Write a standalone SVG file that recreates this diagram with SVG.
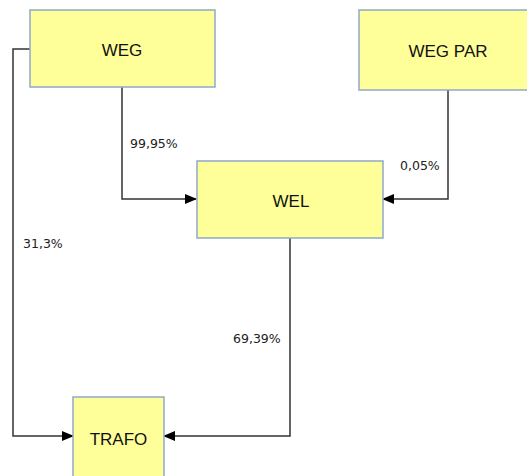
<svg xmlns="http://www.w3.org/2000/svg" width="527" height="476" viewBox="0 0 527 476">
<style>
.box{fill:#ffff99;stroke:#8ea9cc;stroke-width:1.5}
.lbl{font-family:"Liberation Sans",Arial,sans-serif;font-size:17px;fill:#111;text-anchor:middle}
.pct{font-family:"DejaVu Sans",Verdana,sans-serif;font-size:12.5px;fill:#222}
.con{fill:none;stroke:#333;stroke-width:1.5}
</style>
<defs>
<marker id="arr" markerWidth="12" markerHeight="10" refX="11" refY="5" orient="auto" markerUnits="userSpaceOnUse">
<path d="M0,0 L12,5 L0,10 Z" fill="#000"/>
</marker>
</defs>
<rect width="527" height="476" fill="#fff"/>
<g id="connectors">
<path class="con" d="M30,49 H13 V436 H73" marker-end="url(#arr)"/>
<path class="con" d="M122,87 V199 H196" marker-end="url(#arr)"/>
<path class="con" d="M448,90 V199 H383" marker-end="url(#arr)"/>
<path class="con" d="M290,238 V436 H164" marker-end="url(#arr)"/>
<text class="pct" x="130" y="148">99,95%</text>
<text class="pct" x="400" y="170">0,05%</text>
<text class="pct" x="23" y="248">31,3%</text>
<text class="pct" x="233" y="343">69,39%</text>
</g>
<g id="WEG">
<rect class="box" x="30" y="10" width="185" height="77"/>
<text class="lbl" x="122" y="56">WEG</text>
</g>
<g id="WEG_PAR">
<rect class="box" x="359" y="10" width="175" height="80"/>
<text class="lbl" x="448" y="57">WEG PAR</text>
</g>
<g id="WEL">
<rect class="box" x="197" y="161" width="186" height="77"/>
<text class="lbl" x="291" y="207">WEL</text>
</g>
<g id="TRAFO">
<rect class="box" x="73" y="397" width="91" height="90"/>
<text class="lbl" x="118.5" y="445">TRAFO</text>
</g>
</svg>
